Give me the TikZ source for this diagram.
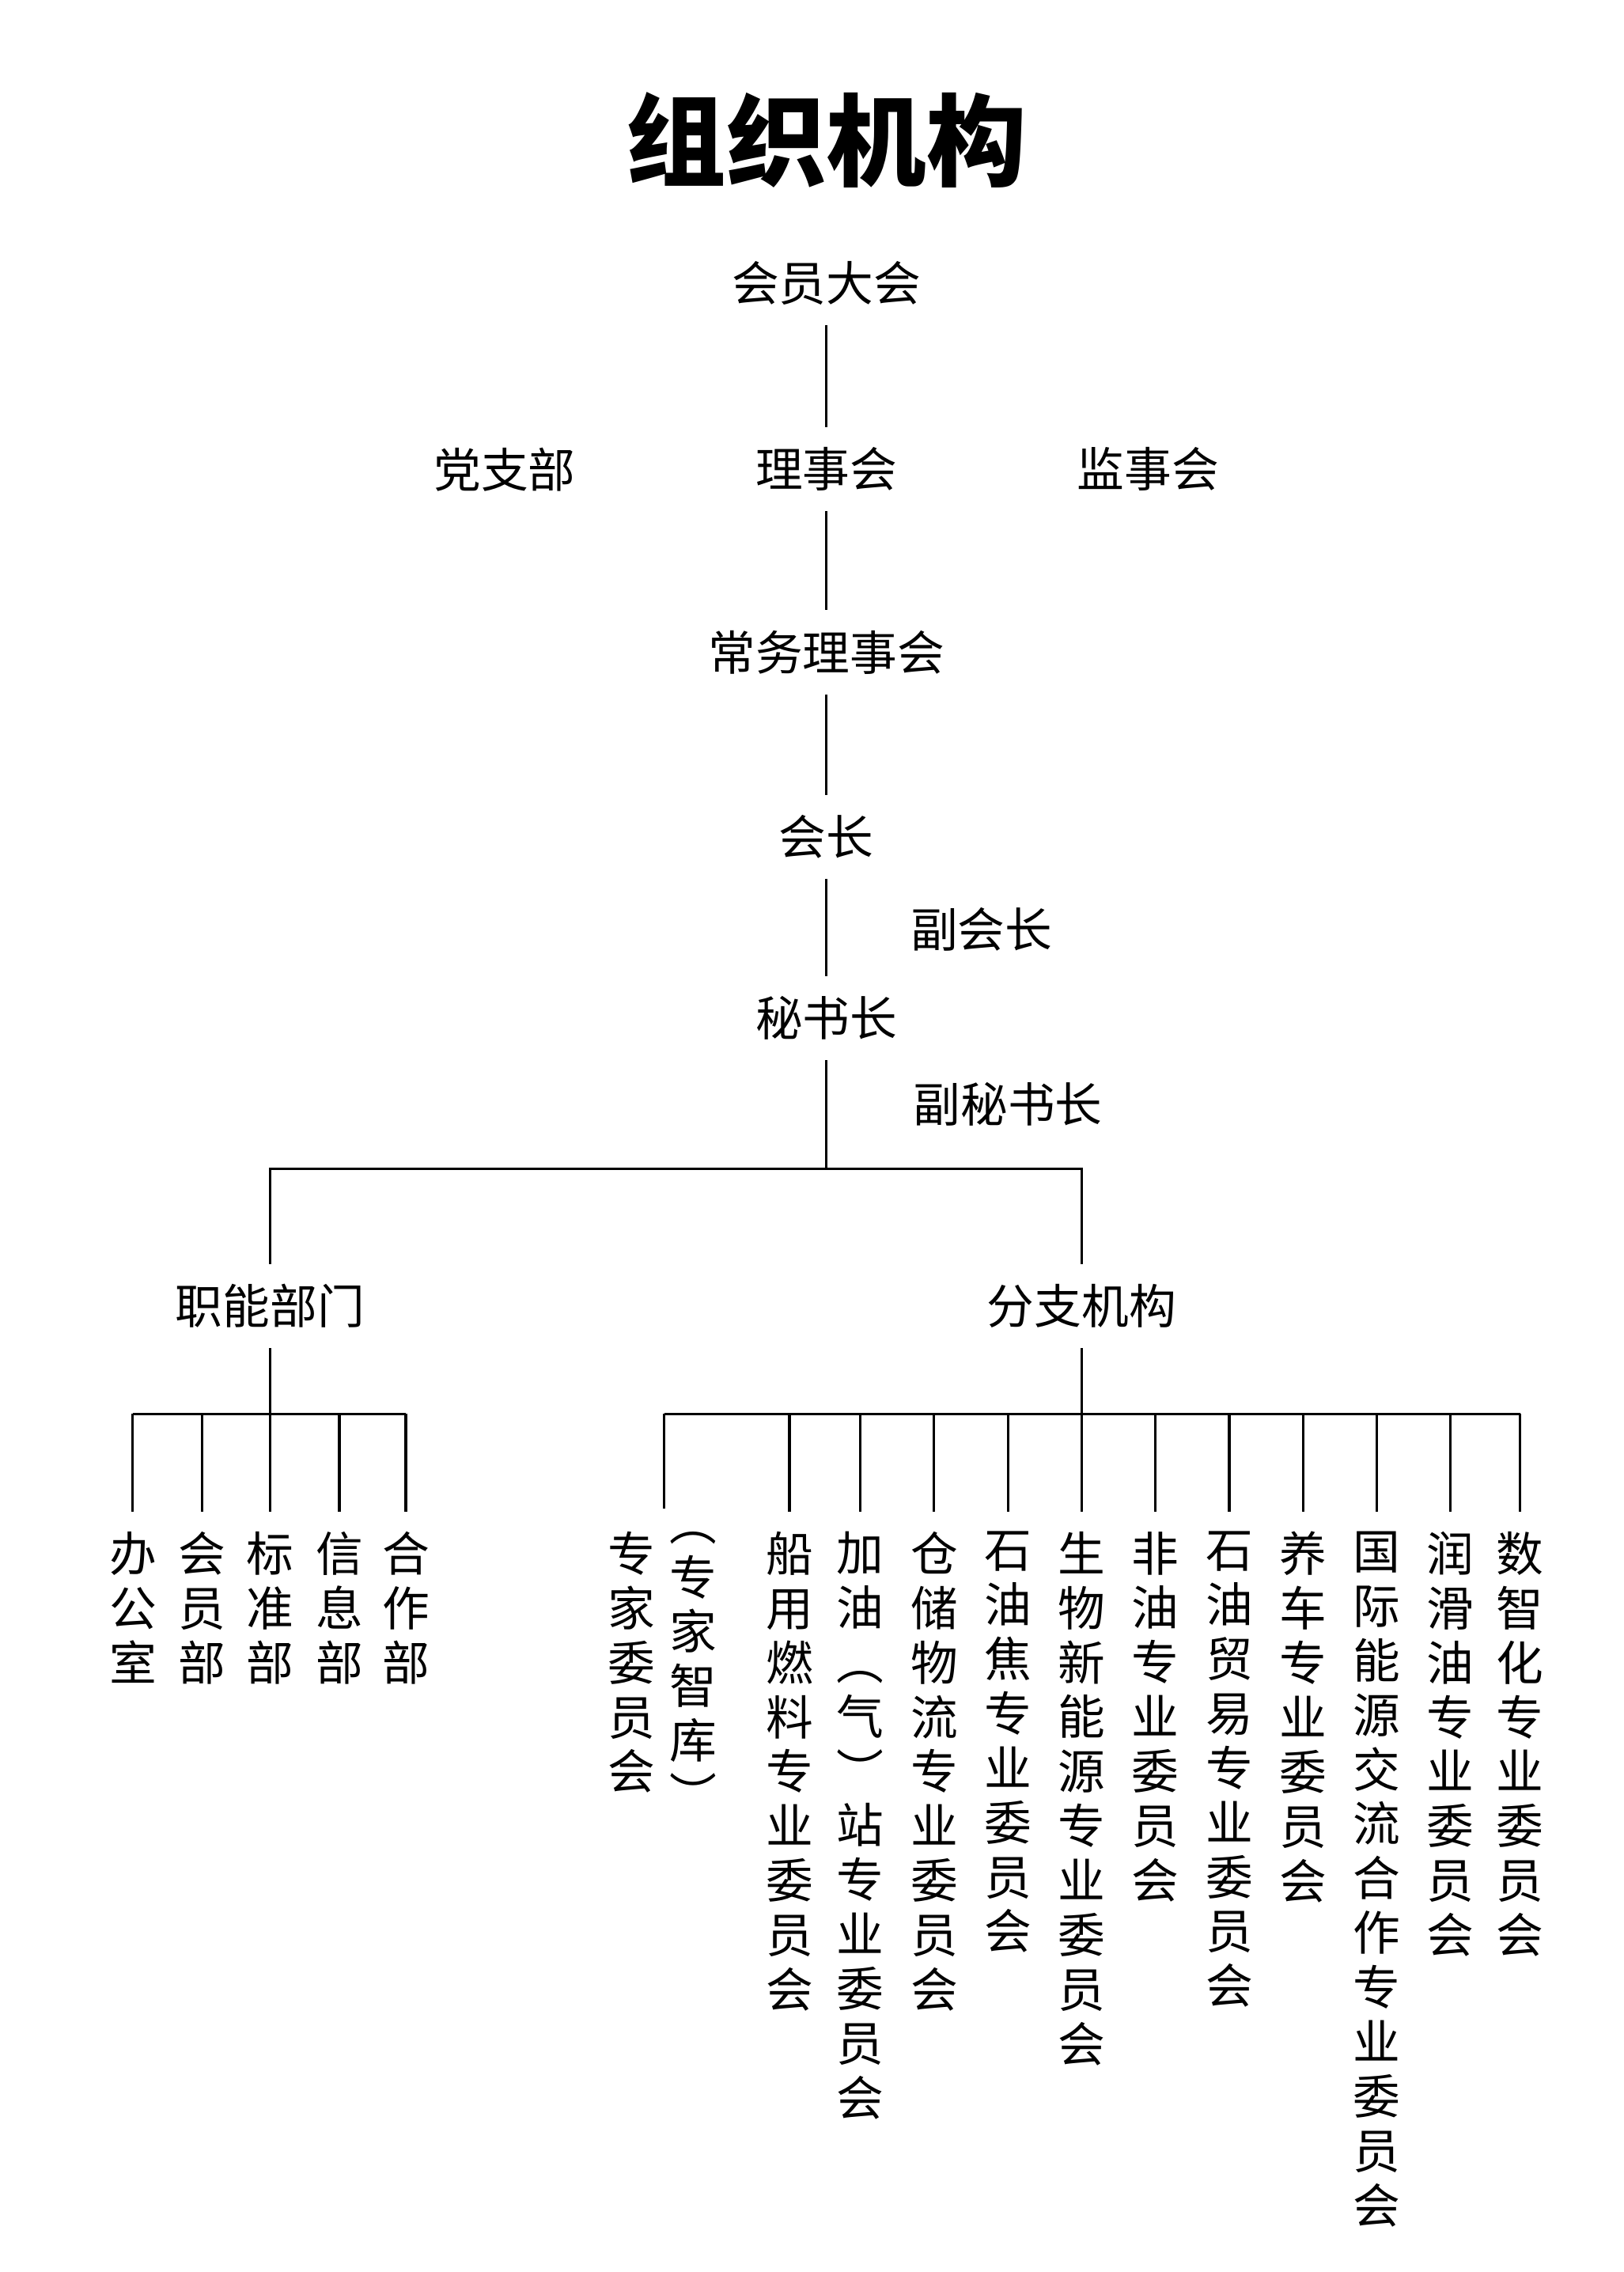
\documentclass[tikz,border=0pt]{standalone}
\usepackage{fontspec}
\setmainfont{Noto Sans CJK SC}
\usetikzlibrary{positioning}

\begin{document}
\begin{tikzpicture}[
        x=0.018655cm, y=-0.018655cm,
        lbl/.style = {font=\fontsize{17}{20}\selectfont, inner sep=0.24cm},
        vtext/.style = {font=\fontsize{17}{19.6}\selectfont, align=center, anchor=north, inner sep=0pt, text width=0.7cm},
        every path/.style = {line width=0.9pt}
    ]
    \useasboundingbox (0,0) rectangle (1100,1539.5);
    \node (title) at (560,95) {\fontsize{36}{40}\selectfont\bfseries 组织机构};
    % top chain
    \node[lbl] (assembly) at (560,192) {会员大会};
    \node[lbl] (council) at (560,318) {理事会};
    \node[lbl] (party) at (342,318) {党支部};
    \node[lbl] (supervisors) at (778,318) {监事会};
    \node[lbl] (standing) at (560,442) {常务理事会};
    \node[lbl] (president) at (560,567) {会长};
    \node[lbl] (vicepres) at (665,630) {副会长};
    \node[lbl] (secretary) at (560,690) {秘书长};
    \node[lbl] (vicesec) at (683,748) {副秘书长};
    \draw (assembly.south) -- (council.north);
    \draw (council.south) -- (standing.north);
    \draw (standing.south) -- (president.north);
    \draw (president.south) -- (secretary.north);
    % two branches
    \coordinate (split) at (560,792);
    \node[lbl] (functional) at (183,885) {职能部门};
    \node[lbl] (branches) at (733,885) {分支机构};
    \draw (secretary.south) -- (split);
    \draw (functional.north) |- (split) -| (branches.north);
    % functional departments
    \coordinate (fbar) at (183,958);
    \draw (functional.south) -- (fbar);
    \draw (90,958) -- (275,958);
    \foreach \x/\nm/\txt in {90/office/{办\\公\\室}, 137/members/{会\\员\\部}, 183/standard/{标\\准\\部}, 230/info/{信\\息\\部}, 275/coop/{合\\作\\部}} {
        \node[vtext] (\nm) at (\x,1037) {\txt};
        \draw (\x,958) -- ([yshift=0.24cm]\nm.north);
    }
    % branch committees
    \coordinate (bbar) at (733,958);
    \draw (branches.south) -- (bbar);
    \draw (450,958) -- (1030,958);
    \node[vtext] (expert) at (428,1037) {专\\家\\委\\员\\会};
    \node[vtext] (think) at (470,1037) {︵\\专\\家\\智\\库\\︶};
    \coordinate (expertend) at (450,1022);
    \draw (450,958) -- (expertend);
    \foreach \x/\nm/\txt in {
        535/marine/{船\\用\\燃\\料\\专\\业\\委\\员\\会},
        583/station/{加\\油\\︵\\气\\︶\\站\\专\\业\\委\\员\\会},
        633/storage/{仓\\储\\物\\流\\专\\业\\委\\员\\会},
        683/coke/{石\\油\\焦\\专\\业\\委\\员\\会},
        733/bio/{生\\物\\新\\能\\源\\专\\业\\委\\员\\会},
        783/nonoil/{非\\油\\专\\业\\委\\员\\会},
        833/trade/{石\\油\\贸\\易\\专\\业\\委\\员\\会},
        883/care/{养\\车\\专\\业\\委\\员\\会},
        933/intl/{国\\际\\能\\源\\交\\流\\合\\作\\专\\业\\委\\员\\会},
        983/lube/{润\\滑\\油\\专\\业\\委\\员\\会},
        1030/digital/{数\\智\\化\\专\\业\\委\\员\\会}} {
        \node[vtext] (\nm) at (\x,1037) {\txt};
        \draw (\x,958) -- ([yshift=0.24cm]\nm.north);
    }
\end{tikzpicture}
\end{document}
